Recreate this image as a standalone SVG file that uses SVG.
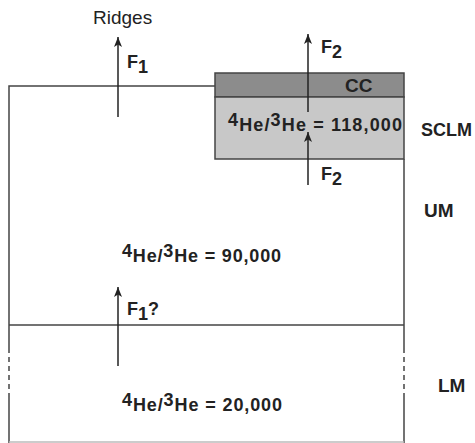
<svg xmlns="http://www.w3.org/2000/svg" width="475" height="443" viewBox="0 0 475 443">
<defs>
<marker id="ah" markerWidth="11" markerHeight="8" refX="10" refY="4" orient="auto" markerUnits="userSpaceOnUse" viewBox="0 0 11 8">
<path d="M0,0 L10,4 L0,8 L2.5,4 Z" fill="#222"/>
</marker>
</defs>
<style>
.ln{stroke:#444;stroke-width:1.5;fill:none}
.ar{stroke:#222;stroke-width:1.5;fill:none}
.b{font-family:"Liberation Sans",Arial,sans-serif;font-weight:bold;fill:#222}
.r{font-family:"Liberation Sans",Arial,sans-serif;fill:#222}
</style>
<rect width="475" height="443" fill="#fff"/>
<g id="mantle">
<path class="ln" d="M215,86 H9 V348"/>
<path class="ln" d="M9,397 V443"/>
<path class="ln" d="M9,348 V397" stroke-dasharray="5,4"/>
<path class="ln" d="M404,159 V348"/>
<path class="ln" d="M404,397 V443"/>
<path class="ln" d="M404,348 V397" stroke-dasharray="5,4"/>
<line x1="9" y1="442" x2="404" y2="442" stroke="#bbb" stroke-width="1.5"/>
</g>
<g id="boundary">
<line class="ln" x1="9" y1="325" x2="404" y2="325"/>
</g>
<g id="cc">
<rect x="215" y="73" width="189" height="24" fill="#8c8c8c" stroke="#444" stroke-width="1.5"/>
<text class="b" x="345" y="92" font-size="19">CC</text>
</g>
<g id="sclm">
<rect x="215" y="97" width="189" height="62" fill="#c8c8c8" stroke="#444" stroke-width="1.5"/>
<text class="b" x="228" y="126" font-size="18" textLength="174">4<tspan dy="5">He/</tspan><tspan dy="-5">3</tspan><tspan dy="5">He = 118,000</tspan></text>
</g>
<g id="connectors">
<line class="ar" x1="118" y1="117" x2="118" y2="37" marker-end="url(#ah)"/>
<line class="ar" x1="308" y1="112" x2="308" y2="34" marker-end="url(#ah)"/>
<line class="ar" x1="308" y1="185" x2="308" y2="132" marker-end="url(#ah)"/>
<line class="ar" x1="118" y1="366" x2="118" y2="287" marker-end="url(#ah)"/>
</g>
<g id="labels">
<text class="r" x="93" y="24" font-size="19">Ridges</text>
<text class="b" x="127" y="68" font-size="18">F<tspan dy="5">1</tspan></text>
<text class="b" x="321" y="53" font-size="18">F<tspan dy="5">2</tspan></text>
<text class="b" x="321" y="180" font-size="18">F<tspan dy="5">2</tspan></text>
<text class="b" x="127" y="315" font-size="18">F<tspan dy="5">1</tspan><tspan dy="-5">?</tspan></text>
<text class="b" x="421" y="136" font-size="18">SCLM</text>
<text class="b" x="424" y="217" font-size="19">UM</text>
<text class="b" x="438" y="392" font-size="19">LM</text>
<text class="b" x="122" y="257" font-size="18" textLength="159">4<tspan dy="5">He/</tspan><tspan dy="-5">3</tspan><tspan dy="5">He = 90,000</tspan></text>
<text class="b" x="122" y="406" font-size="18" textLength="160">4<tspan dy="5">He/</tspan><tspan dy="-5">3</tspan><tspan dy="5">He = 20,000</tspan></text>
</g>
</svg>
